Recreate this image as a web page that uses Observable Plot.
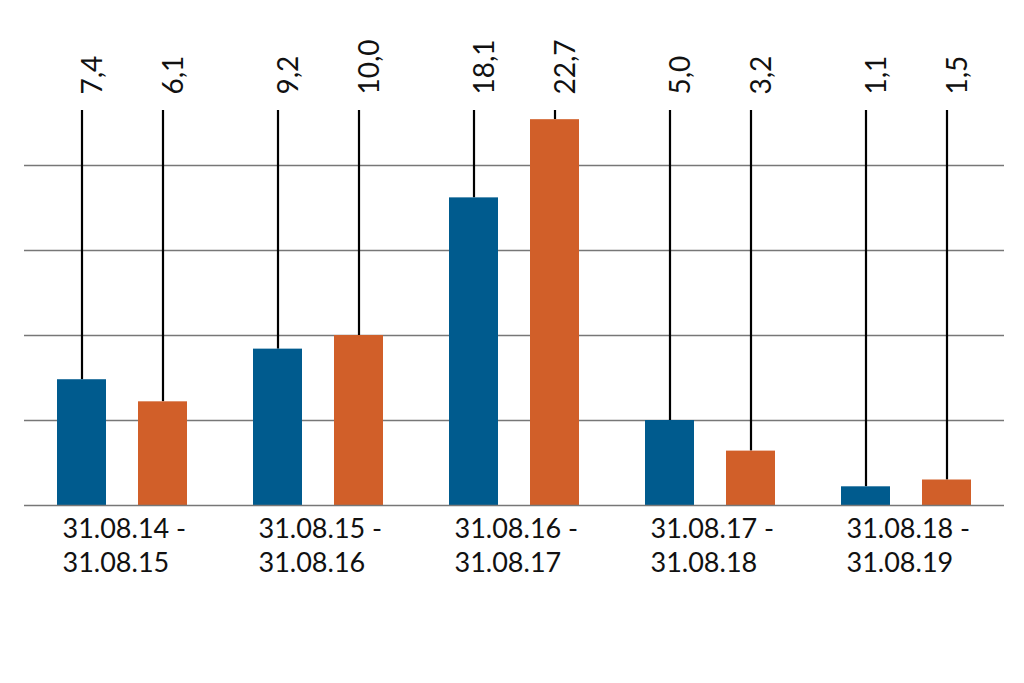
<!DOCTYPE html>
<html>
<head>
<meta charset="utf-8">
<script src="https://cdn.jsdelivr.net/npm/d3@7"></script>
<script src="https://cdn.jsdelivr.net/npm/@observablehq/plot@0.6"></script>
<style>
  html, body { margin: 0; padding: 0; background: #fff; }
</style>
</head>
<body>
<div id="chart"></div>
<script>
const periods = ["31.08.14 -\n31.08.15", "31.08.15 -\n31.08.16", "31.08.16 -\n31.08.17", "31.08.17 -\n31.08.18", "31.08.18 -\n31.08.19"];
const series = ["A", "B"];
const valuesA = [7.4, 9.2, 18.1, 5.0, 1.1];
const valuesB = [6.1, 10.0, 22.7, 3.2, 1.5];
const seriesColors = ["#005b8e", "#d15f29"];
const gridValues = [5, 10, 15, 20];
const yMax = 23.24;

const data = periods.flatMap((p, i) => [
  {period: p, series: "A", value: valuesA[i]},
  {period: p, series: "B", value: valuesB[i]}
]);
const fmt = v => v.toFixed(1).replace(".", ",");

const chart = Plot.plot({
  width: 1024,
  height: 683,
  marginTop: 110,
  marginBottom: 178,
  marginLeft: 23,
  marginRight: 20,
  style: {fontFamily: "Lato", fontSize: "27px", color: "#111", background: "#fff"},
  fx: {domain: periods, padding: 0, axis: null},
  x: {domain: series, padding: 0.4, axis: null},
  y: {domain: [0, yMax], axis: null},
  color: {domain: series, range: seriesColors},
  marks: [
    Plot.ruleY(gridValues, {stroke: "#777", strokeWidth: 1.5}),
    Plot.ruleX(data, {fx: "period", x: "series", y1: "value", y2: () => yMax, stroke: "#000", strokeWidth: 2.2}),
    Plot.barY(data, {fx: "period", x: "series", y: "value", fill: "series"}),
    Plot.ruleY([0], {stroke: "#777", strokeWidth: 1.5}),
    Plot.text(data, {fx: "period", x: "series", frameAnchor: "top", text: d => fmt(d.value), rotate: -90, textAnchor: "start", dy: -16, fontSize: 28, fontWeight: 400, fill: "#111"}),
    Plot.text(periods, {fx: d => d, text: d => d, frameAnchor: "bottom", textAnchor: "start", lineAnchor: "top", dx: -60, dy: 8, lineHeight: 1.26, fontSize: 27, fontWeight: 400, fill: "#111"})
  ]
});
document.getElementById("chart").appendChild(chart);
</script>
</body>
</html>
